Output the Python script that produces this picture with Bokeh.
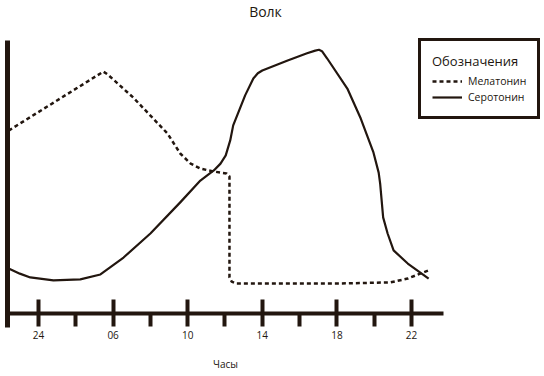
from bokeh.plotting import figure
from bokeh.models import Range1d, FixedTicker, Legend, LegendItem, Label
from bokeh.embed import file_html
from bokeh.resources import INLINE

# ---- data ----
tick_pos = [0, 1, 2, 3, 4, 5]
tick_labels = ["24", "06", "10", "14", "18", "22"]
minor_pos = [0.5, 1.5, 2.5, 3.5, 4.5]

mel_x = [-0.40, 0.87, 0.93, 1.27, 1.73, 1.90, 2.04, 2.17, 2.35, 2.52, 2.56, 2.56, 2.59, 2.65, 2.98, 4.05, 4.72, 4.95, 5.23]
mel_y = [67.0, 88.6, 87.5, 79.1, 65.9, 58.6, 54.9, 53.1, 52.0, 51.3, 50.2, 13.2, 11.7, 11.0, 11.0, 11.0, 11.4, 12.8, 15.8]

ser_x = [-0.40, -0.25, -0.11, 0.20, 0.56, 0.83, 1.14, 1.50, 1.90, 2.17, 2.35, 2.44, 2.51, 2.57, 2.61, 2.77, 2.88, 2.94,
         3.00, 3.34, 3.60, 3.71, 3.76, 3.80, 3.87, 4.14, 4.32, 4.49, 4.56, 4.58, 4.62, 4.68, 4.76, 4.95, 5.23]
ser_y = [16.5, 14.6, 13.2, 12.1, 12.5, 14.3, 20.5, 29.3, 40.7, 48.7, 52.4, 54.9, 57.9, 63.4, 68.9, 79.9, 86.1, 88.0,
         89.0, 92.7, 95.3, 96.3, 96.6, 96.1, 93.4, 82.4, 71.4, 59.0, 51.6, 47.6, 35.2, 29.3, 23.1, 18.3, 12.8]

ink = "#22160f"
font = "Open Sans"

p = figure(width=544, height=376, output_backend="svg", toolbar_location=None, title=None,
           x_range=Range1d(-0.4155, 6.783), y_range=Range1d(-23.08, 114.65),
           min_border_left=7, min_border_right=0, min_border_top=0, min_border_bottom=0)
p.outline_line_color = None
p.grid.visible = False
p.background_fill_color = "white"

r_mel = p.line(mel_x, mel_y, line_color=ink, line_width=2.5, line_dash="4 3")
r_ser = p.line(ser_x, ser_y, line_color=ink, line_width=2.2, line_join="round")

# x axis
xa = p.xaxis[0]
xa.fixed_location = 0
xa.bounds = (-0.4155, 5.429)
xa.ticker = FixedTicker(ticks=tick_pos, minor_ticks=minor_pos)
xa.major_label_overrides = {t: l for t, l in zip(tick_pos, tick_labels)}
xa.axis_line_width = 4
xa.axis_line_color = ink
xa.major_tick_line_width = 4
xa.major_tick_line_color = ink
xa.major_tick_in = 14
xa.major_tick_out = 13
xa.minor_tick_line_width = 4
xa.minor_tick_line_color = ink
xa.minor_tick_in = 0
xa.minor_tick_out = 13
xa.major_label_text_font = font
xa.major_label_text_font_size = "10px"
xa.major_label_text_color = ink
xa.major_label_standoff = 5
xa.axis_label = "Часы"
xa.axis_label_text_font = font
xa.axis_label_text_font_size = "10px"
xa.axis_label_text_font_style = "normal"
xa.axis_label_text_color = ink
xa.axis_label_standoff = 14

# y axis
ya = p.yaxis[0]
ya.bounds = (-5.13, 100)
ya.ticker = FixedTicker(ticks=[])
ya.axis_line_width = 5
ya.axis_line_color = ink
ya.major_tick_in = 0
ya.major_tick_out = 0
ya.minor_tick_in = 0
ya.minor_tick_out = 0
ya.major_label_standoff = 0

# title
title = Label(x=258, y=365, x_units="screen", y_units="screen", text="Волк",
              text_font=font, text_font_size="14px", text_color=ink,
              text_align="center", text_baseline="middle")
p.add_layout(title)

legend = Legend(items=[LegendItem(label="Мелатонин", renderers=[r_mel]),
                       LegendItem(label="Серотонин", renderers=[r_ser])],
                location=(411, 257))
legend.title = "Обозначения"
legend.title_text_font = font
legend.title_text_font_size = "13px"
legend.title_text_font_style = "normal"
legend.title_text_color = ink
legend.title_standoff = 3
legend.label_text_font = font
legend.label_text_font_size = "10.5px"
legend.label_text_color = ink
legend.glyph_width = 30
legend.glyph_height = 16
legend.label_height = 16
legend.label_standoff = 6
legend.spacing = 0
legend.padding = 11
legend.margin = 0
legend.border_line_color = ink
legend.border_line_alpha = 1
legend.border_line_width = 3
legend.background_fill_color = "white"
legend.background_fill_alpha = 1
p.add_layout(legend)

open("out.html", "w").write(file_html(p, INLINE))
